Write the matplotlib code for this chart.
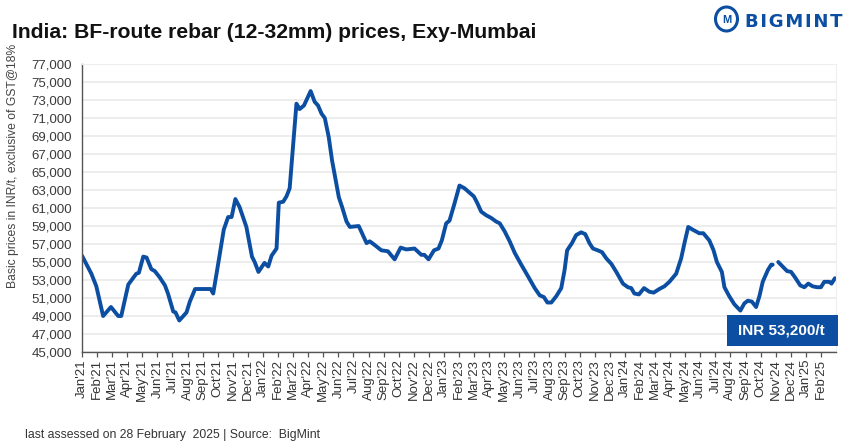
import numpy as np
import pandas as pd
import matplotlib
matplotlib.use("Agg")
import matplotlib.pyplot as plt
from matplotlib.patches import Rectangle, Ellipse

plt.rcParams['font.family'] = ['Liberation Sans', 'DejaVu Sans']

# months since Jan'21 (weekly assessments)
months = [
    0.0, 0.62, 0.95, 1.4, 1.92, 2.4, 2.6, 3.07, 3.6, 3.77, 4.06, 4.28, 4.6, 4.82,
    5.15, 5.5, 5.7, 6.05, 6.2, 6.45, 6.93, 7.15, 7.5, 7.7, 8.53, 8.7, 9.03, 9.4,
    9.69, 9.92, 10.17, 10.45, 10.9, 11.27, 11.45, 11.7, 12.1, 12.35, 12.57, 12.9,
    13.05, 13.34, 13.56, 13.77, 14.22, 14.43, 14.72, 15.16, 15.43, 15.65, 15.88,
    16.1, 16.36, 16.58, 17.03, 17.25, 17.54, 17.76, 18.35, 18.87, 19.08, 19.4,
    19.85, 20.28, 20.73, 21.13, 21.5, 22.05, 22.5, 22.7, 22.98, 23.34, 23.64,
    23.86, 24.15, 24.37, 24.7, 25.03, 25.36, 25.7, 25.98, 26.2, 26.47, 26.8,
    27.13, 27.46, 27.7, 28.03, 28.36, 28.7, 29.13, 29.58, 30.02, 30.35, 30.63,
    30.86, 31.12, 31.45, 31.78, 32.0, 32.17, 32.49, 32.77, 33.1, 33.37, 33.65,
    33.88, 34.2, 34.48, 34.77, 35.1, 35.43, 35.87, 36.2, 36.42, 36.63, 36.93,
    37.27, 37.62, 37.91, 38.28, 38.62, 38.95, 39.25, 39.4, 39.73, 39.95, 40.2,
    40.49, 40.93, 41.2, 41.6, 41.88, 42.1, 42.43, 42.6, 42.92, 43.26, 43.66,
    43.92, 44.15, 44.42, 44.7, 44.92, 45.14, 45.48, 45.7, 45.8, 46.0,
    46.17, 46.46, 46.75, 47.02, 47.28, 47.63, 47.9, 48.16, 48.45, 48.74, 49.0,
    49.22, 49.56, 49.7, 49.93,
]
prices = [
    55700, 53700, 52300, 49000, 50000, 49000, 49000, 52500, 53700, 53800, 55600, 55500, 54200, 54000,
    53300, 52400, 51500, 49500, 49400, 48500, 49400, 50600, 52000, 52000, 52000, 51500, 54800, 58600,
    60000, 60000, 62000, 61100, 58900, 55600, 55000, 53900, 54900, 54500, 55700, 56500,
    61600, 61700, 62300, 63200, 72600, 72000, 72400, 74000, 72800, 72400, 71500,
    71000, 68900, 66300, 62200, 61100, 59500, 58900, 59000, 57100, 57300, 56900,
    56300, 56200, 55300, 56600, 56400, 56500, 55800, 55800, 55300, 56300, 56500,
    57400, 59300, 59600, 61500, 63500, 63200, 62700, 62300, 61600, 60600, 60200,
    59900, 59500, 59300, 58400, 57300, 56000, 54700, 53400, 52100, 51300, 51100,
    50500, 50500, 51200, 52100, 54100, 56300, 57100, 58000, 58300, 58100, 57100,
    56500, 56300, 56100, 55400, 54800, 53900, 52600, 52200, 52100, 51500, 51400,
    52100, 51700, 51600, 52000, 52300, 52800, 53400, 53700, 55400, 57100, 58900,
    58600, 58200, 58200, 57400, 56300, 55000, 53900, 52200, 51200, 50300, 49600,
    50400, 50700, 50600, 50000, 51200, 52800, 54100, 54700, 54700, np.nan,
    55000, 54500, 54000, 53900, 53300, 52400, 52200, 52600, 52300, 52200, 52200,
    52800, 52800, 52600, 53200,
]

tick_labels = [d.strftime("%b'%y") for d in pd.date_range("2021-01-01", "2025-02-01", freq="MS")]
y_ticks = list(range(45000, 77001, 2000))
latest_label = "INR 53,200/t"

BLUE = "#0b4ea2"

fig = plt.figure(figsize=(8.49, 4.45), dpi=100)
ax = fig.add_axes([0.0966, 0.209, 0.8881, 0.647])

ax.plot(months, prices, color=BLUE, lw=2.8, solid_joinstyle='round', solid_capstyle='round')

ax.set_xlim(0, 50)
ax.set_ylim(45000, 77000)
ax.set_yticks(y_ticks)
ax.set_yticklabels([f"{v:,}" for v in y_ticks], fontsize=9.5, color="#3a3a3a")
ax.set_xticks(range(len(tick_labels)))
ax.set_xticklabels(tick_labels, rotation=90, fontsize=9.5, color="#333333")
ax.tick_params(axis='y', length=0, pad=7)
ax.tick_params(axis='x', length=3.5, width=0.9, color="#555555", pad=1.5)
ax.grid(axis='y', color="#ececec", lw=1.3)
ax.set_axisbelow(True)
for s in ['top', 'right']:
    ax.spines[s].set_color("#eeeeee")
for s in ['left', 'bottom']:
    ax.spines[s].set_color("#555555")
    ax.spines[s].set_linewidth(1.0)

ax.set_ylabel("Basic prices in INR/t, exclusive of GST@18%", fontsize=8.7, color="#444444")
ax.yaxis.set_label_coords(-0.083, 0.646)

# latest price box
ax.add_patch(Rectangle((0.855, 0.021), 0.147, 0.107, transform=ax.transAxes,
                       facecolor=BLUE, edgecolor='none', clip_on=False, zorder=5))
ax.text(0.928, 0.075, latest_label, transform=ax.transAxes, ha='center', va='center',
        color='white', fontsize=11, fontweight='bold', zorder=6)

fig.text(0.014, 0.9146, "India: BF-route rebar (12-32mm) prices, Exy-Mumbai",
         fontsize=15.2, fontweight='bold', color="#111111", va='baseline')

# logo
fig.patches.append(Ellipse((726.5 / 849, 1 - 19 / 445), 22 / 849, 24 / 445, transform=fig.transFigure,
                           facecolor='none', edgecolor=BLUE, lw=2.2))
fig.text(726.5 / 849, 1 - 20 / 445, "M", ha='center', va='center', fontsize=8, fontweight='bold', color=BLUE)
fig.text(745 / 849, 1 - 22 / 445, "\u200a".join("BIGMINT"), ha='left', va='center',
         fontsize=13, fontweight='bold', color=BLUE, family='DejaVu Sans')

fig.text(25 / 849, 1 - 435 / 445, "last assessed on 28 February  2025 | Source:  BigMint",
         fontsize=8.8, color="#333333", va='center')

fig.savefig("out.png", dpi=100)
